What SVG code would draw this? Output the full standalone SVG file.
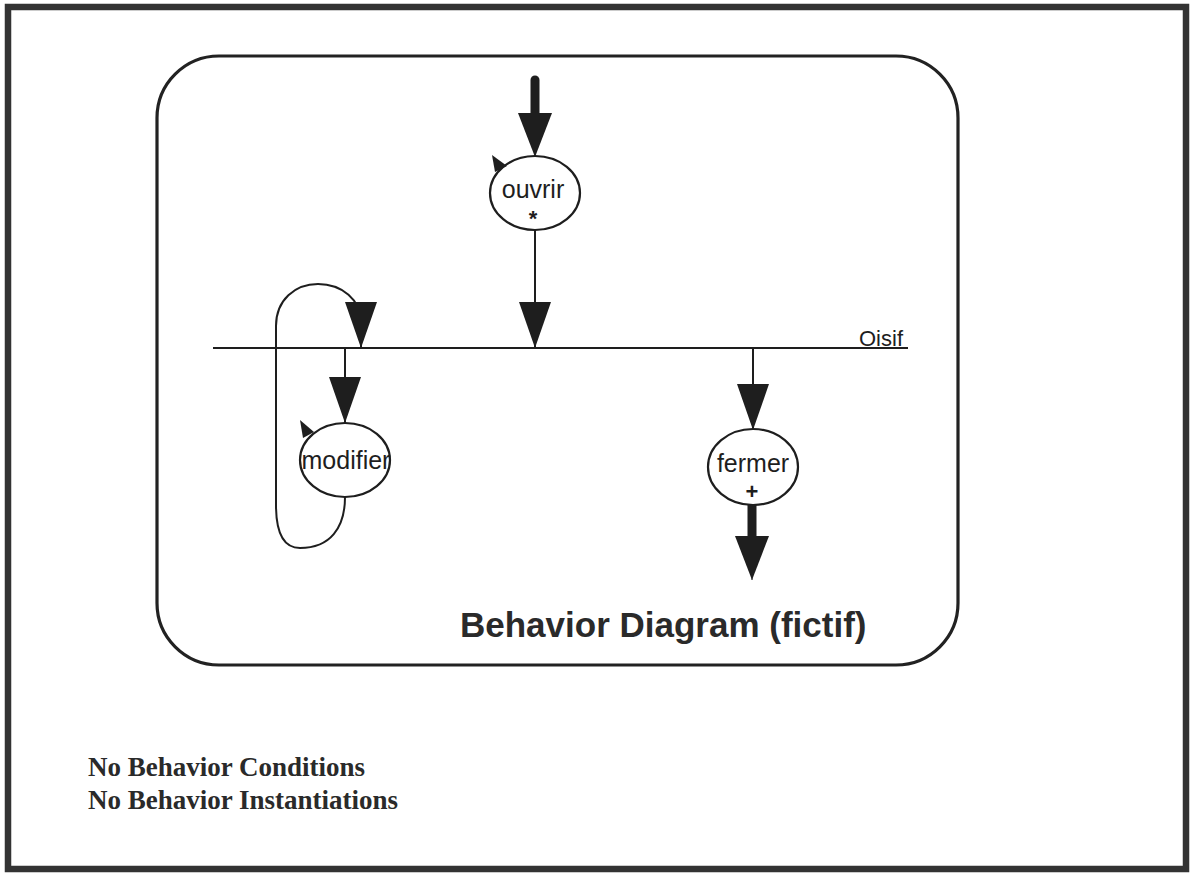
<svg xmlns="http://www.w3.org/2000/svg" width="1190" height="873" viewBox="0 0 1190 873">
  <style>
    .frame { fill: #ffffff; stroke: #333333; stroke-width: 6.5; }
    .panel { fill: none; stroke: #222222; stroke-width: 3.2; }
    .flow { fill: none; stroke: #1e1e1e; stroke-width: 2; }
    .thick { fill: none; stroke: #1e1e1e; stroke-width: 9; stroke-linecap: round; }
    .state { fill: #ffffff; stroke: #1e1e1e; stroke-width: 2.2; }
    .flag { fill: #1e1e1e; }
    .lbl { font-family: "Liberation Sans", Arial, sans-serif; font-size: 25px; fill: #1e1e1e; text-anchor: middle; }
    .mark { font-family: "Liberation Sans", Arial, sans-serif; font-weight: bold; font-size: 22px; fill: #1e1e1e; text-anchor: middle; }
    .title { font-family: "Liberation Sans", Arial, sans-serif; font-weight: bold; font-size: 35px; fill: #2a2a2a; }
    .note { font-family: "Liberation Serif", "Times New Roman", serif; font-weight: bold; font-size: 27px; fill: #2a2a2a; }
  </style>
  <defs>
    <marker id="head" viewBox="0 0 46 32" markerWidth="46" markerHeight="32" refX="46" refY="16" orient="auto" markerUnits="userSpaceOnUse">
      <path d="M0,0 L46,16 L0,32 Z" fill="#1e1e1e"/>
    </marker>
    <marker id="bighead" viewBox="0 0 44 34" markerWidth="44" markerHeight="34" refX="44" refY="17" orient="auto" markerUnits="userSpaceOnUse">
      <path d="M0,0 L44,17 L0,34 Z" fill="#1e1e1e"/>
    </marker>
  </defs>

  <!-- page frame -->
  <rect class="frame" x="8" y="7" width="1178" height="862"/>

  <!-- diagram panel -->
  <rect class="panel" x="157" y="56" width="801" height="609" rx="62" ry="62"/>

  <!-- state bar -->
  <g id="oisif">
    <line x1="213" y1="348" x2="908" y2="348" stroke="#1e1e1e" stroke-width="2"/>
    <text class="lbl" x="881" y="346" style="font-size:22px">Oisif</text>
  </g>

  <!-- connectors -->
  <g id="connectors">
    <!-- entry into ouvrir -->
    <line class="thick" x1="535" y1="80" x2="535" y2="120"/>
    <path d="M535,115 L535,157" fill="none" stroke="#1e1e1e" stroke-width="1" marker-end="url(#bighead)"/>
    <!-- ouvrir to Oisif -->
    <path class="flow" d="M535,230 L535,348" marker-end="url(#head)"/>
    <!-- Oisif to modifier -->
    <path class="flow" d="M345,348 L345,423" marker-end="url(#head)"/>
    <!-- modifier loops back to Oisif -->
    <path class="flow" d="M345,497 C345,528 330,548 300,548 C282,548 276,530 276,505 L276,326 C276,300 295,284 318,284 C342,284 361,300 361,322 L361,348" marker-end="url(#head)"/>
    <!-- Oisif to fermer -->
    <path class="flow" d="M753,348 L753,430" marker-end="url(#head)"/>
    <!-- exit from fermer -->
    <line class="thick" x1="752" y1="505" x2="752" y2="542"/>
    <path d="M752,536 L752,580" fill="none" stroke="#1e1e1e" stroke-width="1" marker-end="url(#bighead)"/>
  </g>

  <!-- nodes -->
  <g id="ouvrir">
    <ellipse class="state" cx="535" cy="193" rx="45" ry="37"/>
    <path class="flag" d="M492,155 L507,166 L495,172 Z"/>
    <text class="lbl" x="533" y="198">ouvrir</text>
    <text class="mark" x="533" y="226">*</text>
  </g>

  <g id="modifier">
    <ellipse class="state" cx="345" cy="460" rx="45" ry="37"/>
    <path class="flag" d="M300,420 L314,432 L303,438 Z"/>
    <text class="lbl" x="346" y="469">modifier</text>
  </g>

  <g id="fermer">
    <ellipse class="state" cx="753" cy="467" rx="45" ry="38"/>
    <text class="lbl" x="753" y="472">fermer</text>
    <text class="mark" x="752" y="499">+</text>
  </g>

  <!-- captions -->
  <text class="title" x="460" y="637">Behavior Diagram (fictif)</text>
  <text class="note" x="88" y="776">No Behavior Conditions</text>
  <text class="note" x="88" y="809">No Behavior Instantiations</text>
</svg>
